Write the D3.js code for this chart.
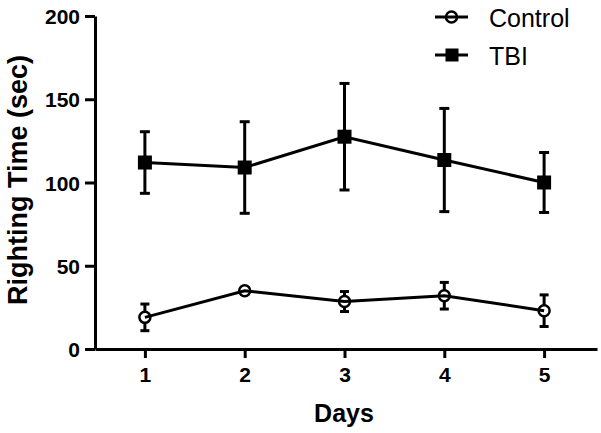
<!DOCTYPE html>
<html>
<head>
<meta charset="utf-8">
<script src="https://cdn.jsdelivr.net/npm/d3@7"></script>
<style>
  html, body { margin: 0; padding: 0; background: #fff; }
  svg { display: block; font-family: Arial, "Liberation Sans", sans-serif; }
</style>
</head>
<body>
<svg id="chart" width="601" height="433"></svg>
<script>
// ---- data ----
const days = [1, 2, 3, 4, 5];
const controlMean = [19, 35, 28.5, 32, 23];
const controlErr  = [8, 2, 6, 8, 9.5];
const tbiMean = [112, 109, 127.5, 113.5, 100];
const tbiErr  = [18.5, 27.5, 32, 31, 18];
const yTicks = [0, 50, 100, 150, 200];
const xTicks = [1, 2, 3, 4, 5];
const seriesNames = ["Control", "TBI"];
const xTitle = "Days";
const yTitle = "Righting Time (sec)";

const svg = d3.select("#chart");
const x = d3.scaleLinear().domain([0.5, 5.53]).range([95, 597]);
const y = d3.scaleLinear().domain([0, 200]).range([349, 16]);

// axes
const yAxis = d3.axisLeft(y).tickValues(yTicks).tickSize(10).tickSizeOuter(0).tickPadding(5);
const xAxis = d3.axisBottom(x).tickValues(xTicks).tickSize(9).tickSizeOuter(0).tickPadding(9).tickFormat(d3.format("d"));

const gy = svg.append("g").attr("transform", `translate(${x.range()[0]},0)`).call(yAxis);
const gx = svg.append("g").attr("transform", `translate(0,${y.range()[0]})`).call(xAxis);
[gx, gy].forEach(g => {
  g.select(".domain").attr("stroke", "#000").attr("stroke-width", 3);
  g.selectAll(".tick line").attr("stroke", "#000").attr("stroke-width", 3);
  g.selectAll(".tick text").attr("fill", "#000")
    .style("font-size", "21px").style("font-weight", "bold")
    .style("font-family", "Arial, 'Liberation Sans', sans-serif");
});
gy.selectAll(".tick text").attr("dy", "0.36em");

// axis titles
svg.append("text")
  .attr("x", 344).attr("y", 422)
  .attr("text-anchor", "middle")
  .style("font-size", "25px").style("font-weight", "bold")
  .text(xTitle);
svg.append("text")
  .attr("transform", "translate(27,180) rotate(-90)")
  .attr("text-anchor", "middle")
  .style("font-size", "27px").style("font-weight", "bold")
  .text(yTitle);

function drawSeries(means, errs, type) {
  const pts = days.map((d, i) => ({ d, m: means[i], e: errs[i] }));
  const g = svg.append("g");
  // error bars
  pts.forEach(p => {
    const cx = x(p.d);
    const capW = type === "circle" ? 4.5 : 5;
    g.append("line").attr("x1", cx).attr("x2", cx)
      .attr("y1", y(p.m + p.e)).attr("y2", y(p.m - p.e))
      .attr("stroke", "#000").attr("stroke-width", 3);
    [p.m + p.e, p.m - p.e].forEach(v => {
      g.append("line").attr("x1", cx - capW).attr("x2", cx + capW)
        .attr("y1", y(v)).attr("y2", y(v))
        .attr("stroke", "#000").attr("stroke-width", 3);
    });
  });
  // markers
  if (type === "circle") {
    g.selectAll("circle").data(pts).enter().append("circle")
      .attr("cx", p => x(p.d)).attr("cy", p => y(p.m)).attr("r", 5.5)
      .attr("fill", "#fff").attr("stroke", "#000").attr("stroke-width", 2.5);
  } else {
    g.selectAll("rect").data(pts).enter().append("rect")
      .attr("x", p => x(p.d) - 7).attr("y", p => y(p.m) - 7)
      .attr("width", 14).attr("height", 14).attr("fill", "#000");
  }
  // connecting line
  g.append("path").datum(pts)
    .attr("d", d3.line().x(p => x(p.d)).y(p => y(p.m)))
    .attr("fill", "none").attr("stroke", "#000").attr("stroke-width", 3);
}
drawSeries(controlMean, controlErr, "circle");
drawSeries(tbiMean, tbiErr, "square");

// legend
const legend = svg.append("g");
seriesNames.forEach((name, i) => {
  const cy = 17 + i * 38;
  legend.append("line").attr("x1", 435).attr("x2", 468).attr("y1", cy).attr("y2", cy)
    .attr("stroke", "#000").attr("stroke-width", 3);
  if (i === 0) {
    legend.append("circle").attr("cx", 451.5).attr("cy", cy).attr("r", 5.5)
      .attr("fill", "#fff").attr("stroke", "#000").attr("stroke-width", 2.5);
    legend.append("line").attr("x1", 445).attr("x2", 458).attr("y1", cy).attr("y2", cy)
      .attr("stroke", "#000").attr("stroke-width", 3);
  } else {
    legend.append("rect").attr("x", 445.5).attr("y", cy - 6.5).attr("width", 13).attr("height", 13)
      .attr("fill", "#000");
  }
  legend.append("text").attr("x", 489).attr("y", cy + 10)
    .style("font-size", "25px").style("font-weight", "normal")
    .text(name);
});
</script>
</body>
</html>
